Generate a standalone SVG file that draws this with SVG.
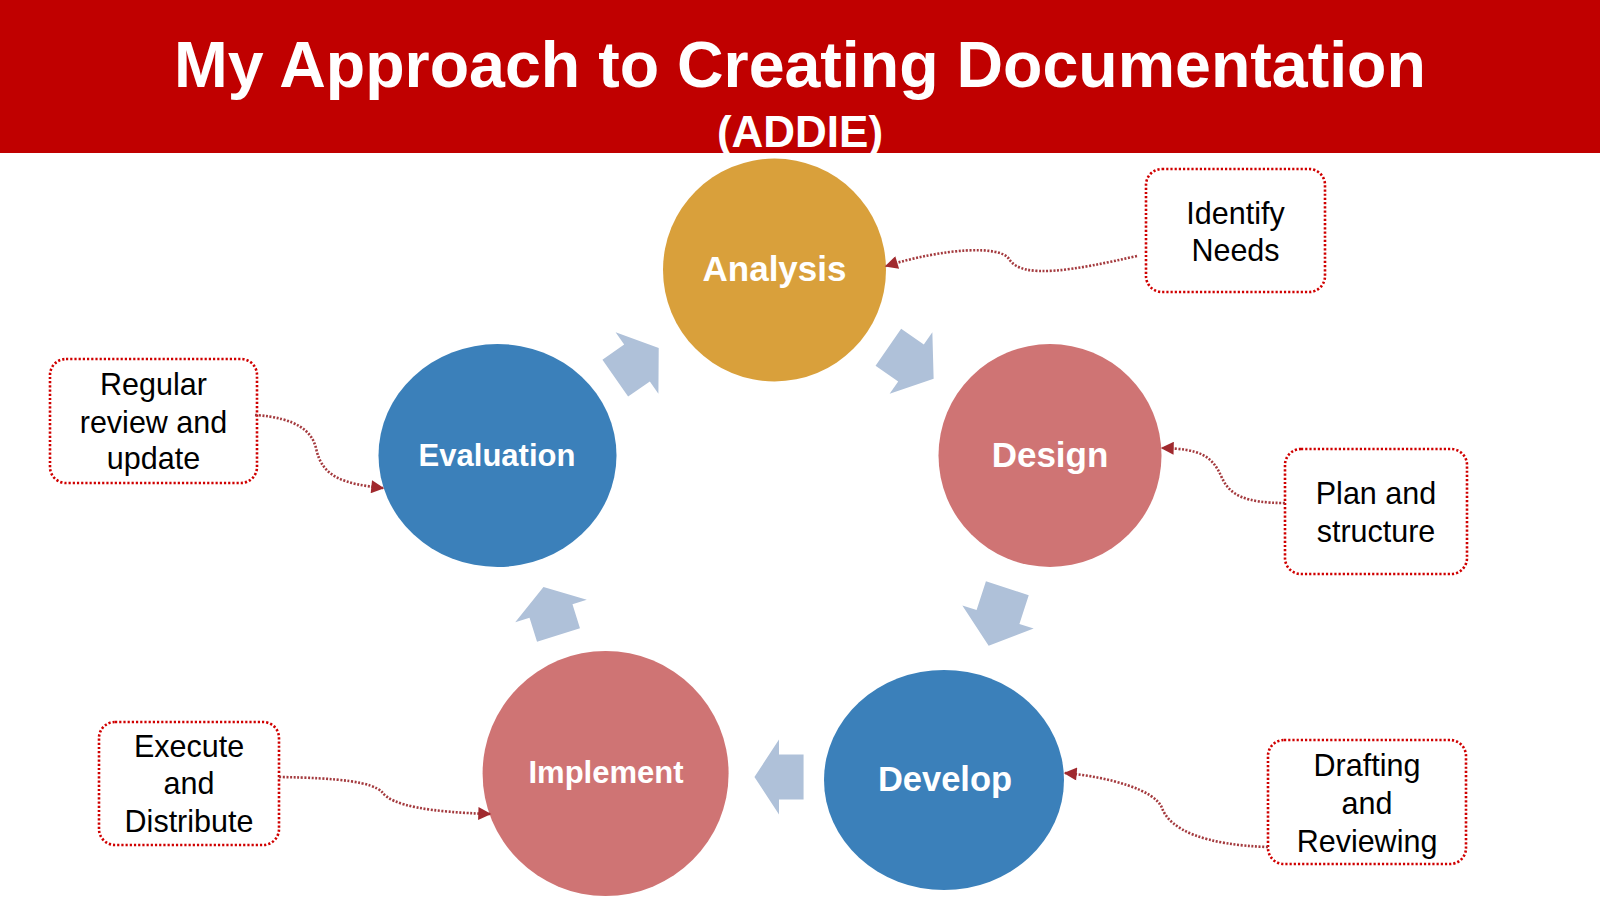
<svg xmlns="http://www.w3.org/2000/svg" width="1600" height="900" viewBox="0 0 1600 900">
<style>
.title{font-family:"Liberation Sans",Arial,sans-serif;font-weight:bold;fill:#ffffff;text-anchor:middle}
.node{font-family:"Liberation Sans",Arial,sans-serif;font-weight:bold;fill:#ffffff;text-anchor:middle}
.note{font-family:"Liberation Sans",Arial,sans-serif;font-size:30.5px;fill:#000000;text-anchor:middle}
.box{fill:#ffffff;stroke:#D00000;stroke-width:2.6;stroke-dasharray:2.2 2}
.conn{fill:none;stroke:#A43A3E;stroke-width:2.6;stroke-dasharray:2 1.6;marker-end:url(#ah)}
.cyc{fill:#AFC1D9}
</style>
<defs>
<marker id="ah" viewBox="0 0 10 10" refX="9" refY="5" markerWidth="15" markerHeight="13" markerUnits="userSpaceOnUse" orient="auto">
<path d="M0,0 L10,5 L0,10 Z" fill="#A0292E"/>
</marker>
<path id="arr" d="M-27,-22.5 H0 V-37.5 L27,0 L0,37.5 V22.5 H-27 Z"/>
</defs>
<rect x="0" y="0" width="1600" height="153" fill="#C00000"/>
<text class="title" x="800" y="87" font-size="64.5">My Approach to Creating Documentation</text>
<text class="title" x="800" y="147" font-size="44">(ADDIE)</text>

<g id="cycle-arrows">
<use href="#arr" class="cyc" transform="translate(911,363) rotate(34.7) scale(1.02,1)"/>
<use href="#arr" class="cyc" transform="translate(998,617) rotate(108) scale(1.12,1)"/>
<use href="#arr" class="cyc" transform="translate(779,777) rotate(180) scale(0.91,1)"/>
<use href="#arr" class="cyc" transform="translate(551,611) rotate(-107.4) scale(0.93,1)"/>
<use href="#arr" class="cyc" transform="translate(637,363) rotate(-34.8) scale(0.98,1)"/>
</g>

<g id="analysis">
<ellipse cx="774.5" cy="270" rx="111.5" ry="111.5" fill="#D9A03B"/>
<text class="node" x="774.5" y="280.5" font-size="35">Analysis</text>
</g>
<g id="design">
<ellipse cx="1050" cy="455.5" rx="111.5" ry="111.5" fill="#CF7474"/>
<text class="node" x="1050" y="466.5" font-size="35">Design</text>
</g>
<g id="develop">
<ellipse cx="944" cy="780" rx="120" ry="110" fill="#3B80BA"/>
<text class="node" x="945" y="790.5" font-size="34.5">Develop</text>
</g>
<g id="implement">
<ellipse cx="605.6" cy="773.5" rx="123" ry="122.5" fill="#CF7474"/>
<text class="node" x="606" y="782.5" font-size="31">Implement</text>
</g>
<g id="evaluation">
<ellipse cx="497.5" cy="455.5" rx="119" ry="111.5" fill="#3B80BA"/>
<text class="node" x="497" y="466" font-size="31">Evaluation</text>
</g>

<g id="note-identify">
<rect class="box" x="1146" y="169" width="179" height="123" rx="16"/>
<text class="note" x="1235.5" y="224">Identify</text>
<text class="note" x="1235.5" y="260.5">Needs</text>
</g>
<g id="note-plan">
<rect class="box" x="1285" y="449" width="182" height="125" rx="16"/>
<text class="note" x="1376" y="503.5">Plan and</text>
<text class="note" x="1376" y="541.5">structure</text>
</g>
<g id="note-drafting">
<rect class="box" x="1268" y="740" width="198" height="124" rx="16"/>
<text class="note" x="1367" y="776">Drafting</text>
<text class="note" x="1367" y="813.5">and</text>
<text class="note" x="1367" y="851.5">Reviewing</text>
</g>
<g id="note-execute">
<rect class="box" x="99" y="722" width="180" height="123" rx="16"/>
<text class="note" x="189" y="757">Execute</text>
<text class="note" x="189" y="794">and</text>
<text class="note" x="189" y="831.5">Distribute</text>
</g>
<g id="note-regular">
<rect class="box" x="50" y="359" width="207" height="124" rx="16"/>
<text class="note" x="153.5" y="395">Regular</text>
<text class="note" x="153.5" y="432.5">review and</text>
<text class="note" x="153.5" y="469">update</text>
</g>

<g id="connectors">
<path class="conn" d="M1137,256 C1075,270 1022,280 1009,259 C1000,245 945,248 886,266"/>
<path class="conn" d="M1285,503 C1245,503 1230,495 1222,478 C1212,455 1200,449 1162,448"/>
<path class="conn" d="M1268,847 C1205,845 1170,830 1162,808 C1155,790 1110,777 1065,773"/>
<path class="conn" d="M279,777 C340,778 372,782 382,792 C392,806 430,812 490,814"/>
<path class="conn" d="M255,415 C298,418 312,432 316,448 C322,478 345,484 383,488"/>
</g>
</svg>
